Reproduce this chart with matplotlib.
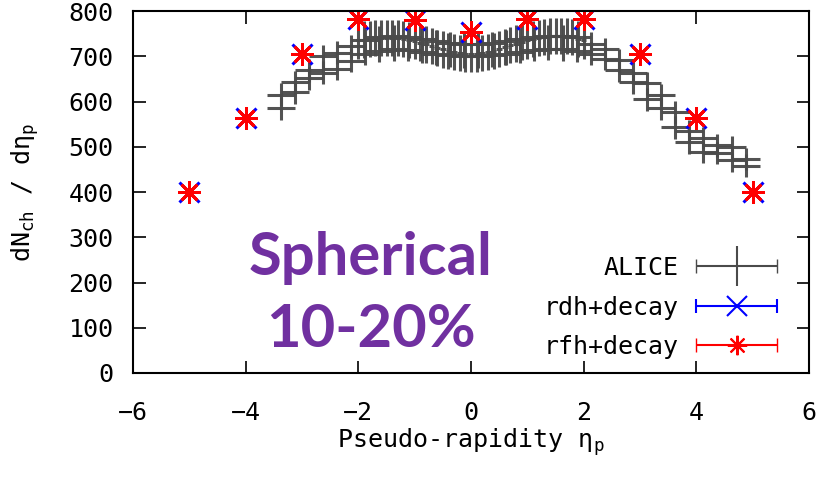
import numpy as np
import matplotlib
matplotlib.use("Agg")
import matplotlib.pyplot as plt
from matplotlib.legend_handler import HandlerErrorbar

plt.rcParams['font.family'] = ['DejaVu Sans Mono', 'DejaVu Sans']
plt.rcParams['mathtext.fontset'] = 'custom'
plt.rcParams['mathtext.rm'] = 'DejaVu Sans Mono'
plt.rcParams['mathtext.it'] = 'DejaVu Sans Mono'

# ALICE, dense mid-rapidity points
eta_mid = [-2.0, -1.9, -1.8, -1.7, -1.6, -1.5, -1.4, -1.3, -1.2, -1.1, -1.0,
           -0.9, -0.8, -0.7, -0.6, -0.5, -0.4, -0.3, -0.2, -0.1, 0.0,
           0.1, 0.2, 0.3, 0.4, 0.5, 0.6, 0.7, 0.8, 0.9, 1.0,
           1.1, 1.2, 1.3, 1.4, 1.5, 1.6, 1.7, 1.8, 1.9, 2.0]
dn_mid = [735, 737, 739, 740, 741, 741, 741, 740, 738, 736, 733,
          730, 726, 722, 718, 715, 712, 709, 707, 706, 705,
          706, 707, 709, 712, 716, 720, 724, 728, 732, 735,
          738, 741, 743, 744, 745, 745, 744, 742, 739, 735]

# ALICE, wide bins (two overlapping sets)
eta_wide = [-3.375, -3.125, -2.875, -2.625, -2.375, -2.125, -1.875, -1.625, -1.375,
            -1.125, -0.875, -0.625, -0.375, -0.125, 0.125, 0.375, 0.625, 0.875,
            1.125, 1.375, 1.625, 1.875, 2.125, 2.375, 2.625, 2.875, 3.125, 3.375,
            3.625, 3.875, 4.125, 4.375, 4.625, 4.875]
dn_wide_a = [615, 642, 669, 700, 708, 722, 735, 742, 745,
             742, 738, 733, 729, 727, 727, 729, 733, 738,
             742, 745, 745, 742, 728, 715, 691, 664, 640, 614,
             576, 535, 519, 503, 499, 473]
dn_wide_b = [585, 620, 651, 664, 672, 690, 705, 712, 715,
             714, 710, 706, 702, 700, 700, 702, 706, 710,
             714, 716, 715, 712, 706, 695, 669, 642, 605, 585,
             543, 510, 488, 486, 470, 458]

# model points
eta_model = [-5, -4, -3, -2, -1, 0, 1, 2, 3, 4, 5]
dn_rdh = [400, 563, 704, 783, 781, 753, 783, 783, 704, 563, 400]
dn_rfh = [400, 563, 704, 783, 781, 753, 783, 783, 704, 563, 400]

gray = '#4a4a4a'
fs = 18
fig = plt.figure(figsize=(8.25, 4.84), dpi=100)
ax = fig.add_axes([133 / 825, 1 - 373 / 484, 676 / 825, 362 / 484])

ax.errorbar(eta_wide, dn_wide_a, xerr=0.25, yerr=25, fmt='none', ecolor=gray,
            elinewidth=2.2, capsize=0, alpha=0.95)
ax.errorbar(eta_wide, dn_wide_b, xerr=0.25, yerr=25, fmt='none', ecolor=gray,
            elinewidth=2.2, capsize=0, alpha=0.95)
ax.errorbar(eta_mid, dn_mid, xerr=0.05, yerr=40, fmt='none', ecolor=gray,
            elinewidth=2.2, capsize=0, alpha=0.95)

ax.plot(eta_model, dn_rdh, linestyle='none', marker='x', color='blue',
        markersize=15, markeredgewidth=2.2)
ax.plot(eta_model, dn_rfh, linestyle='none', marker=(8, 2, 0), color='red',
        markersize=16, markeredgewidth=2)

# legend handles
h1a = ax.errorbar([np.nan], [np.nan], xerr=[1], fmt='none', ecolor=gray,
                  elinewidth=1.5, capsize=5)
h1b = ax.errorbar([np.nan], [np.nan], yerr=[1], fmt='none', ecolor=gray,
                  elinewidth=1.5, capsize=0)
h2 = ax.errorbar([np.nan], [np.nan], xerr=[1], fmt='x', color='blue', markersize=14,
                 markeredgewidth=1.5, elinewidth=1.5, capsize=5)
h3 = ax.errorbar([np.nan], [np.nan], xerr=[1], fmt='none', color='red',
                 elinewidth=1.5, capsize=5)
h3m = ax.plot([np.nan], [np.nan], linestyle='none', marker=(8, 2, 0), color='red',
              markersize=14, markeredgewidth=1.5)[0]

hand = HandlerErrorbar(xerr_size=1.62, yerr_size=0.8, numpoints=1)
leg = ax.legend([(h1a, h1b), h2, (h3, h3m)], ['ALICE', 'rdh+decay', 'rfh+decay'],
                handler_map={type(h2): hand}, loc='lower right',
                bbox_to_anchor=(777 / 825, 1 - 359 / 484), bbox_transform=fig.transFigure,
                frameon=False, markerfirst=False, fontsize=fs, handlelength=3.24,
                handletextpad=0.7, labelspacing=0.62, borderpad=0, borderaxespad=0)

ax.text(-1.78, 255, 'Spherical', color='#7030a0', fontsize=43, fontweight='bold',
        family='Lato', ha='center', va='center')
ax.text(-1.78, 95, '10-20%', color='#7030a0', fontsize=43, fontweight='bold',
        family='Lato', ha='center', va='center')

ax.set_xlim(-6, 6)
ax.set_ylim(0, 800)
ax.set_xticks(np.arange(-6, 7, 2))
ax.set_yticks(np.arange(0, 801, 100))
ax.tick_params(direction='in', length=9, width=1.2, top=True, right=True,
               labelsize=fs)
ax.tick_params(axis='y', pad=14)
ax.tick_params(axis='x', pad=20)
for s in ax.spines.values():
    s.set_linewidth(1.5)

ax.set_xlabel(r'Pseudo-rapidity η$_\mathregular{p}$', fontsize=fs, labelpad=1)
ax.set_ylabel(r'dN$_\mathregular{ch}$ / dη$_\mathregular{p}$', fontsize=fs, labelpad=20)

fig.savefig('out.png', dpi=100)
